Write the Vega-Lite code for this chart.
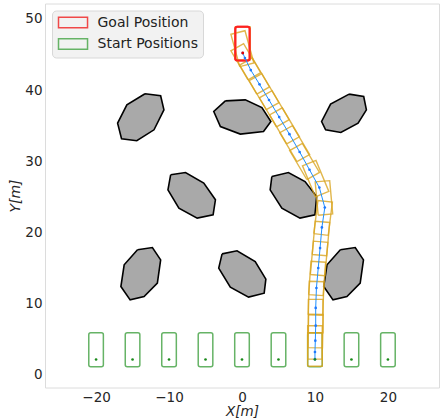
{
  "$schema": "https://vega.github.io/schema/vega-lite/v6.json",
  "width": 394,
  "height": 384,
  "autosize": {"type": "none"},
  "padding": {"left": 45, "top": 3.5, "right": 2, "bottom": 30.5},
  "config": {
    "view": {"stroke": "#dcdcdc", "strokeWidth": 1},
    "font": "DejaVu Sans"
  },
  "datasets": {
    "obstacles": [
      {"id": 1, "k": 0, "x": -13.29, "y": 39.47}, {"id": 1, "k": 1, "x": -11.15, "y": 39.19}, {"id": 1, "k": 2, "x": -10.70, "y": 37.22}, {"id": 1, "k": 3, "x": -12.06, "y": 34.41}, {"id": 1, "k": 4, "x": -14.42, "y": 32.87}, {"id": 1, "k": 5, "x": -16.51, "y": 33.15}, {"id": 1, "k": 6, "x": -17.05, "y": 35.35}, {"id": 1, "k": 7, "x": -15.78, "y": 37.92}, {"id": 1, "k": 8, "x": -13.29, "y": 39.47},
      {"id": 2, "k": 0, "x": -2.28, "y": 38.48}, {"id": 2, "k": 1, "x": 0.45, "y": 38.62}, {"id": 2, "k": 2, "x": 2.73, "y": 37.54}, {"id": 2, "k": 3, "x": 3.96, "y": 35.58}, {"id": 2, "k": 4, "x": 2.95, "y": 34.17}, {"id": 2, "k": 5, "x": -0.23, "y": 33.81}, {"id": 2, "k": 6, "x": -2.96, "y": 34.87}, {"id": 2, "k": 7, "x": -3.87, "y": 36.98}, {"id": 2, "k": 8, "x": -2.28, "y": 38.48},
      {"id": 3, "k": 0, "x": 14.68, "y": 39.42}, {"id": 3, "k": 1, "x": 16.68, "y": 39.09}, {"id": 3, "k": 2, "x": 17.05, "y": 37.22}, {"id": 3, "k": 3, "x": 15.91, "y": 35.35}, {"id": 3, "k": 4, "x": 13.55, "y": 34.03}, {"id": 3, "k": 5, "x": 11.46, "y": 34.41}, {"id": 3, "k": 6, "x": 10.91, "y": 35.58}, {"id": 3, "k": 7, "x": 12.14, "y": 38.02}, {"id": 3, "k": 8, "x": 14.68, "y": 39.42},
      {"id": 4, "k": 0, "x": -9.78, "y": 28.09}, {"id": 4, "k": 1, "x": -7.74, "y": 28.41}, {"id": 4, "k": 2, "x": -5.24, "y": 26.92}, {"id": 4, "k": 3, "x": -3.64, "y": 24.58}, {"id": 4, "k": 4, "x": -3.96, "y": 22.47}, {"id": 4, "k": 5, "x": -6.14, "y": 22.01}, {"id": 4, "k": 6, "x": -8.65, "y": 23.41}, {"id": 4, "k": 7, "x": -10.15, "y": 25.98}, {"id": 4, "k": 8, "x": -9.78, "y": 28.09},
      {"id": 5, "k": 0, "x": 4.09, "y": 27.85}, {"id": 5, "k": 1, "x": 6.36, "y": 28.41}, {"id": 5, "k": 2, "x": 8.64, "y": 27.15}, {"id": 5, "k": 3, "x": 10.23, "y": 25.04}, {"id": 5, "k": 4, "x": 10.0, "y": 22.47}, {"id": 5, "k": 5, "x": 7.95, "y": 22.01}, {"id": 5, "k": 6, "x": 5.46, "y": 23.41}, {"id": 5, "k": 7, "x": 3.86, "y": 25.98}, {"id": 5, "k": 8, "x": 4.09, "y": 27.85},
      {"id": 6, "k": 0, "x": -14.32, "y": 17.56}, {"id": 6, "k": 1, "x": -12.28, "y": 17.88}, {"id": 6, "k": 2, "x": -11.15, "y": 16.15}, {"id": 6, "k": 3, "x": -11.60, "y": 12.88}, {"id": 6, "k": 4, "x": -13.42, "y": 11.0}, {"id": 6, "k": 5, "x": -15.33, "y": 10.53}, {"id": 6, "k": 6, "x": -16.60, "y": 12.40}, {"id": 6, "k": 7, "x": -16.15, "y": 15.45}, {"id": 6, "k": 8, "x": -14.32, "y": 17.56},
      {"id": 7, "k": 0, "x": -2.73, "y": 16.99}, {"id": 7, "k": 1, "x": -0.68, "y": 17.42}, {"id": 7, "k": 2, "x": 1.81, "y": 15.91}, {"id": 7, "k": 3, "x": 3.27, "y": 13.44}, {"id": 7, "k": 4, "x": 3.04, "y": 11.47}, {"id": 7, "k": 5, "x": 0.90, "y": 10.91}, {"id": 7, "k": 6, "x": -1.60, "y": 12.32}, {"id": 7, "k": 7, "x": -3.19, "y": 14.99}, {"id": 7, "k": 8, "x": -2.73, "y": 16.99},
      {"id": 8, "k": 0, "x": 13.48, "y": 17.56}, {"id": 8, "k": 1, "x": 15.52, "y": 17.88}, {"id": 8, "k": 2, "x": 16.65, "y": 16.15}, {"id": 8, "k": 3, "x": 16.2, "y": 12.88}, {"id": 8, "k": 4, "x": 14.38, "y": 11.0}, {"id": 8, "k": 5, "x": 12.47, "y": 10.53}, {"id": 8, "k": 6, "x": 11.2, "y": 12.40}, {"id": 8, "k": 7, "x": 11.65, "y": 15.45}, {"id": 8, "k": 8, "x": 13.48, "y": 17.56}
    ],
    "footprints": [
      {"id": 0, "k": 0, "x": 9.0, "y": 1.2}, {"id": 0, "k": 1, "x": 9.0, "y": 5.9}, {"id": 0, "k": 2, "x": 11.0, "y": 5.9}, {"id": 0, "k": 3, "x": 11.0, "y": 1.2}, {"id": 0, "k": 4, "x": 9.0, "y": 1.2},
      {"id": 1, "k": 0, "x": 9.0, "y": 2.2}, {"id": 1, "k": 1, "x": 9.0, "y": 6.9}, {"id": 1, "k": 2, "x": 11.0, "y": 6.9}, {"id": 1, "k": 3, "x": 11.0, "y": 2.2}, {"id": 1, "k": 4, "x": 9.0, "y": 2.2},
      {"id": 2, "k": 0, "x": 9.03, "y": 3.82}, {"id": 2, "k": 1, "x": 9.12, "y": 8.52}, {"id": 2, "k": 2, "x": 11.12, "y": 8.48}, {"id": 2, "k": 3, "x": 11.03, "y": 3.78}, {"id": 2, "k": 4, "x": 9.03, "y": 3.82},
      {"id": 3, "k": 0, "x": 9.1, "y": 5.9}, {"id": 3, "k": 1, "x": 9.1, "y": 10.6}, {"id": 3, "k": 2, "x": 11.1, "y": 10.6}, {"id": 3, "k": 3, "x": 11.1, "y": 5.9}, {"id": 3, "k": 4, "x": 9.1, "y": 5.9},
      {"id": 4, "k": 0, "x": 9.07, "y": 8.44}, {"id": 4, "k": 1, "x": 9.23, "y": 13.13}, {"id": 4, "k": 2, "x": 11.23, "y": 13.07}, {"id": 4, "k": 3, "x": 11.07, "y": 8.37}, {"id": 4, "k": 4, "x": 9.07, "y": 8.44},
      {"id": 5, "k": 0, "x": 9.13, "y": 11.27}, {"id": 5, "k": 1, "x": 9.46, "y": 15.96}, {"id": 5, "k": 2, "x": 11.46, "y": 15.82}, {"id": 5, "k": 3, "x": 11.13, "y": 11.13}, {"id": 5, "k": 4, "x": 9.13, "y": 11.27},
      {"id": 6, "k": 0, "x": 9.37, "y": 14.09}, {"id": 6, "k": 1, "x": 9.78, "y": 18.77}, {"id": 6, "k": 2, "x": 11.77, "y": 18.6}, {"id": 6, "k": 3, "x": 11.36, "y": 13.92}, {"id": 6, "k": 4, "x": 9.37, "y": 14.09},
      {"id": 7, "k": 0, "x": 9.62, "y": 16.89}, {"id": 7, "k": 1, "x": 10.03, "y": 21.57}, {"id": 7, "k": 2, "x": 12.02, "y": 21.4}, {"id": 7, "k": 3, "x": 11.61, "y": 16.72}, {"id": 7, "k": 4, "x": 9.62, "y": 16.89},
      {"id": 8, "k": 0, "x": 9.84, "y": 19.83}, {"id": 8, "k": 1, "x": 10.41, "y": 24.49}, {"id": 8, "k": 2, "x": 12.39, "y": 24.25}, {"id": 8, "k": 3, "x": 11.82, "y": 19.59}, {"id": 8, "k": 4, "x": 9.84, "y": 19.83},
      {"id": 9, "k": 0, "x": 10.44, "y": 22.42}, {"id": 9, "k": 1, "x": 10.03, "y": 27.1}, {"id": 9, "k": 2, "x": 12.02, "y": 27.27}, {"id": 9, "k": 3, "x": 12.43, "y": 22.59}, {"id": 9, "k": 4, "x": 10.44, "y": 22.42},
      {"id": 10, "k": 0, "x": 10.05, "y": 25.0}, {"id": 10, "k": 1, "x": 8.29, "y": 29.36}, {"id": 10, "k": 2, "x": 10.14, "y": 30.11}, {"id": 10, "k": 3, "x": 11.9, "y": 25.75}, {"id": 10, "k": 4, "x": 10.05, "y": 25.0},
      {"id": 11, "k": 0, "x": 8.88, "y": 27.43}, {"id": 11, "k": 1, "x": 6.53, "y": 31.5}, {"id": 11, "k": 2, "x": 8.27, "y": 32.5}, {"id": 11, "k": 3, "x": 10.62, "y": 28.43}, {"id": 11, "k": 4, "x": 8.88, "y": 27.43},
      {"id": 12, "k": 0, "x": 7.53, "y": 29.93}, {"id": 12, "k": 1, "x": 5.18, "y": 34.0}, {"id": 12, "k": 2, "x": 6.92, "y": 35.0}, {"id": 12, "k": 3, "x": 9.27, "y": 30.93}, {"id": 12, "k": 4, "x": 7.53, "y": 29.93},
      {"id": 13, "k": 0, "x": 6.13, "y": 32.43}, {"id": 13, "k": 1, "x": 3.78, "y": 36.5}, {"id": 13, "k": 2, "x": 5.52, "y": 37.5}, {"id": 13, "k": 3, "x": 7.87, "y": 33.43}, {"id": 13, "k": 4, "x": 6.13, "y": 32.43},
      {"id": 14, "k": 0, "x": 4.73, "y": 34.83}, {"id": 14, "k": 1, "x": 2.38, "y": 38.9}, {"id": 14, "k": 2, "x": 4.12, "y": 39.9}, {"id": 14, "k": 3, "x": 6.47, "y": 35.83}, {"id": 14, "k": 4, "x": 4.73, "y": 34.83},
      {"id": 15, "k": 0, "x": 3.33, "y": 37.23}, {"id": 15, "k": 1, "x": 0.98, "y": 41.3}, {"id": 15, "k": 2, "x": 2.72, "y": 42.3}, {"id": 15, "k": 3, "x": 5.07, "y": 38.23}, {"id": 15, "k": 4, "x": 3.33, "y": 37.23},
      {"id": 16, "k": 0, "x": 2.03, "y": 39.43}, {"id": 16, "k": 1, "x": -0.32, "y": 43.5}, {"id": 16, "k": 2, "x": 1.42, "y": 44.5}, {"id": 16, "k": 3, "x": 3.77, "y": 40.43}, {"id": 16, "k": 4, "x": 2.03, "y": 39.43},
      {"id": 17, "k": 0, "x": 0.83, "y": 41.43}, {"id": 17, "k": 1, "x": -1.52, "y": 45.5}, {"id": 17, "k": 2, "x": 0.22, "y": 46.5}, {"id": 17, "k": 3, "x": 2.57, "y": 42.43}, {"id": 17, "k": 4, "x": 0.83, "y": 41.43},
      {"id": 18, "k": 0, "x": -0.31, "y": 43.28}, {"id": 18, "k": 1, "x": -1.52, "y": 47.82}, {"id": 18, "k": 2, "x": 0.41, "y": 48.33}, {"id": 18, "k": 3, "x": 1.63, "y": 43.79}, {"id": 18, "k": 4, "x": -0.31, "y": 43.28},
      {"id": 19, "k": 0, "x": -0.9, "y": 44.2}, {"id": 19, "k": 1, "x": -0.9, "y": 48.9}, {"id": 19, "k": 2, "x": 1.1, "y": 48.9}, {"id": 19, "k": 3, "x": 1.1, "y": 44.2}, {"id": 19, "k": 4, "x": -0.9, "y": 44.2}
    ],
    "traj": [
      {"i": 0, "x": 10.0, "y": 2.2}, {"i": 1, "x": 10.0, "y": 3.2}, {"i": 2, "x": 10.05, "y": 4.8}, {"i": 3, "x": 10.1, "y": 6.9}, {"i": 4, "x": 10.1, "y": 9.4},
      {"i": 5, "x": 10.2, "y": 12.2}, {"i": 6, "x": 10.45, "y": 15.0}, {"i": 7, "x": 10.7, "y": 17.8}, {"i": 8, "x": 10.95, "y": 20.7}, {"i": 9, "x": 11.35, "y": 23.5},
      {"i": 10, "x": 10.6, "y": 26.3}, {"i": 11, "x": 9.25, "y": 28.8}, {"i": 12, "x": 7.9, "y": 31.3}, {"i": 13, "x": 6.5, "y": 33.8}, {"i": 14, "x": 5.1, "y": 36.2},
      {"i": 15, "x": 3.7, "y": 38.6}, {"i": 16, "x": 2.4, "y": 40.8}, {"i": 17, "x": 1.2, "y": 42.8}, {"i": 18, "x": 0.4, "y": 44.5}, {"i": 19, "x": 0.1, "y": 45.2}
    ],
    "starts": [
      {"label": "Start Positions", "cx": -20, "left": -21, "right": -19, "bottom": 1.15, "top": 5.9, "dot": 2.15},
      {"label": "Start Positions", "cx": -15, "left": -16, "right": -14, "bottom": 1.15, "top": 5.9, "dot": 2.15},
      {"label": "Start Positions", "cx": -10, "left": -11, "right": -9, "bottom": 1.15, "top": 5.9, "dot": 2.15},
      {"label": "Start Positions", "cx": -5, "left": -6, "right": -4, "bottom": 1.15, "top": 5.9, "dot": 2.15},
      {"label": "Start Positions", "cx": 0, "left": -1, "right": 1, "bottom": 1.15, "top": 5.9, "dot": 2.15},
      {"label": "Start Positions", "cx": 5, "left": 4, "right": 6, "bottom": 1.15, "top": 5.9, "dot": 2.15},
      {"label": "Start Positions", "cx": 10, "left": 9, "right": 11, "bottom": 1.15, "top": 5.9, "dot": 2.15},
      {"label": "Start Positions", "cx": 15, "left": 14, "right": 16, "bottom": 1.15, "top": 5.9, "dot": 2.15},
      {"label": "Start Positions", "cx": 20, "left": 19, "right": 21, "bottom": 1.15, "top": 5.9, "dot": 2.15}
    ],
    "goal": [
      {"label": "Goal Position", "cx": 0.1, "left": -0.92, "right": 1.05, "bottom": 44.15, "top": 48.9, "dot": 45.2}
    ]
  },
  "layer": [
    {
      "data": {"name": "obstacles"},
      "mark": {"type": "line", "fill": "#a9a9a9", "stroke": "#000000", "strokeWidth": 1.6, "strokeJoin": "miter"},
      "encoding": {
        "x": {"field": "x", "type": "quantitative", "scale": {"domain": [-27, 27], "nice": false, "zero": false},
          "axis": {"title": "X[m]", "values": [-20, -10, 0, 10, 20], "ticks": false, "domain": false, "grid": false,
            "labelFontSize": 13.5, "labelPadding": 2.5, "labelColor": "#262626", "labelFont": "DejaVu Sans",
            "titleFontSize": 13.5, "titleFontStyle": "italic", "titleFontWeight": "normal", "titleColor": "#262626", "titleFont": "DejaVu Sans", "titlePadding": 1}},
        "y": {"field": "y", "type": "quantitative", "scale": {"domain": [-1.78, 52.15], "nice": false, "zero": false},
          "axis": {"title": "Y[m]", "values": [0, 10, 20, 30, 40, 50], "ticks": false, "domain": false, "grid": false,
            "labelFontSize": 13.5, "labelPadding": 3, "labelColor": "#262626", "labelFont": "DejaVu Sans",
            "titleFontSize": 14, "titleFontStyle": "italic", "titleFontWeight": "normal", "titleColor": "#262626", "titleFont": "DejaVu Sans", "titlePadding": 2}},
        "detail": {"field": "id", "type": "nominal"},
        "order": {"field": "k", "type": "quantitative"}
      }
    },
    {
      "data": {"name": "starts"},
      "mark": {"type": "rect", "filled": false, "strokeWidth": 1.5, "cornerRadius": 2},
      "encoding": {
        "x": {"field": "left", "type": "quantitative"},
        "x2": {"field": "right"},
        "y": {"field": "bottom", "type": "quantitative"},
        "y2": {"field": "top"},
        "stroke": {"field": "label", "type": "nominal",
          "scale": {"domain": ["Goal Position", "Start Positions"], "range": ["#f04848", "#66b366"]},
          "legend": {"title": null, "orient": "none", "legendX": 7, "legendY": 7,
            "symbolType": "M-1,-0.97H4.28V0.97H-1Z", "symbolSize": 121, "symbolStrokeWidth": 1.5,
            "symbolFillColor": "transparent", "labelFontSize": 14, "labelFont": "DejaVu Sans", "labelColor": "#222222",
            "labelOffset": 26.5, "rowPadding": 3.5, "padding": 5, "fillColor": "#f2f2f2", "strokeColor": "#d8d8d8", "cornerRadius": 4}}
      }
    },
    {
      "data": {"name": "goal"},
      "mark": {"type": "rect", "filled": false, "strokeWidth": 2, "cornerRadius": 2},
      "encoding": {
        "x": {"field": "left", "type": "quantitative"},
        "x2": {"field": "right"},
        "y": {"field": "bottom", "type": "quantitative"},
        "y2": {"field": "top"},
        "stroke": {"field": "label", "type": "nominal"}
      }
    },
    {
      "data": {"name": "footprints"},
      "mark": {"type": "line", "stroke": "#daa520", "strokeWidth": 1.4, "opacity": 0.8},
      "encoding": {
        "x": {"field": "x", "type": "quantitative"},
        "y": {"field": "y", "type": "quantitative"},
        "detail": {"field": "id", "type": "nominal"},
        "order": {"field": "k", "type": "quantitative"}
      }
    },
    {
      "data": {"name": "goal"},
      "mark": {"type": "rect", "filled": false, "strokeWidth": 2, "cornerRadius": 2, "stroke": "#ff2020"},
      "encoding": {
        "x": {"field": "left", "type": "quantitative"},
        "x2": {"field": "right"},
        "y": {"field": "bottom", "type": "quantitative"},
        "y2": {"field": "top"}
      }
    },
    {
      "data": {"name": "traj"},
      "mark": {"type": "line", "stroke": "#1e90ff", "strokeWidth": 1},
      "encoding": {
        "x": {"field": "x", "type": "quantitative"},
        "y": {"field": "y", "type": "quantitative"},
        "order": {"field": "i", "type": "quantitative"}
      }
    },
    {
      "data": {"name": "traj"},
      "mark": {"type": "circle", "color": "#1e78ff", "size": 7, "opacity": 1},
      "encoding": {
        "x": {"field": "x", "type": "quantitative"},
        "y": {"field": "y", "type": "quantitative"}
      }
    },
    {
      "data": {"name": "starts"},
      "mark": {"type": "circle", "color": "#1a8a1a", "size": 7, "opacity": 1},
      "encoding": {
        "x": {"field": "cx", "type": "quantitative"},
        "y": {"field": "dot", "type": "quantitative"}
      }
    },
    {
      "data": {"name": "goal"},
      "mark": {"type": "circle", "color": "#e00000", "size": 8, "opacity": 1},
      "encoding": {
        "x": {"field": "cx", "type": "quantitative"},
        "y": {"field": "dot", "type": "quantitative"}
      }
    }
  ]
}
